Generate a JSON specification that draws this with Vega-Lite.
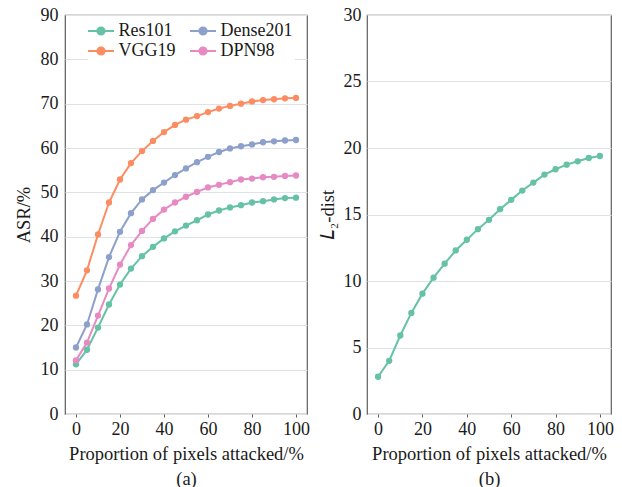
{
  "$schema": "https://vega.github.io/schema/vega-lite/v6.json",
  "background": "white",
  "padding": {"left": 13, "top": 5, "right": 5, "bottom": 0},
  "config": {
    "font": "Liberation Serif",
    "view": {"stroke": "#5f5f5f", "strokeWidth": 1.2},
    "axis": {
      "labelFont": "Liberation Serif", "labelFontSize": 18,
      "titleFont": "Liberation Serif", "titleFontSize": 18.5, "titleFontWeight": "normal",
      "labelColor": "#1a1a1a", "titleColor": "#1a1a1a",
      "domain": false, "tickColor": "#5f5f5f", "tickSize": 3, "labelPadding": 3,
      "gridColor": "#dde3e6", "gridWidth": 1
    },
    "axisX": {"grid": false, "titleLineHeight": 25, "titlePadding": 6},
    "axisY": {"ticks": false, "titleBaseline": "middle"},
    "concat": {"spacing": 6}
  },
  "datasets": {
    "asr": [
      {"model": "Res101", "x": 0, "asr": 11.2}, {"model": "Res101", "x": 5, "asr": 14.5}, {"model": "Res101", "x": 10, "asr": 19.5}, {"model": "Res101", "x": 15, "asr": 24.7}, {"model": "Res101", "x": 20, "asr": 29.2}, {"model": "Res101", "x": 25, "asr": 32.8}, {"model": "Res101", "x": 30, "asr": 35.6}, {"model": "Res101", "x": 35, "asr": 37.7}, {"model": "Res101", "x": 40, "asr": 39.6}, {"model": "Res101", "x": 45, "asr": 41.2}, {"model": "Res101", "x": 50, "asr": 42.5}, {"model": "Res101", "x": 55, "asr": 43.7}, {"model": "Res101", "x": 60, "asr": 45.0}, {"model": "Res101", "x": 65, "asr": 45.9}, {"model": "Res101", "x": 70, "asr": 46.6}, {"model": "Res101", "x": 75, "asr": 47.1}, {"model": "Res101", "x": 80, "asr": 47.7}, {"model": "Res101", "x": 85, "asr": 48.0}, {"model": "Res101", "x": 90, "asr": 48.4}, {"model": "Res101", "x": 95, "asr": 48.7}, {"model": "Res101", "x": 100, "asr": 48.8},
      {"model": "VGG19", "x": 0, "asr": 26.7}, {"model": "VGG19", "x": 5, "asr": 32.4}, {"model": "VGG19", "x": 10, "asr": 40.5}, {"model": "VGG19", "x": 15, "asr": 47.7}, {"model": "VGG19", "x": 20, "asr": 52.9}, {"model": "VGG19", "x": 25, "asr": 56.6}, {"model": "VGG19", "x": 30, "asr": 59.3}, {"model": "VGG19", "x": 35, "asr": 61.6}, {"model": "VGG19", "x": 40, "asr": 63.6}, {"model": "VGG19", "x": 45, "asr": 65.2}, {"model": "VGG19", "x": 50, "asr": 66.4}, {"model": "VGG19", "x": 55, "asr": 67.2}, {"model": "VGG19", "x": 60, "asr": 68.1}, {"model": "VGG19", "x": 65, "asr": 68.9}, {"model": "VGG19", "x": 70, "asr": 69.5}, {"model": "VGG19", "x": 75, "asr": 70.0}, {"model": "VGG19", "x": 80, "asr": 70.5}, {"model": "VGG19", "x": 85, "asr": 70.8}, {"model": "VGG19", "x": 90, "asr": 71.0}, {"model": "VGG19", "x": 95, "asr": 71.2}, {"model": "VGG19", "x": 100, "asr": 71.3},
      {"model": "Dense201", "x": 0, "asr": 15.0}, {"model": "Dense201", "x": 5, "asr": 20.2}, {"model": "Dense201", "x": 10, "asr": 28.1}, {"model": "Dense201", "x": 15, "asr": 35.4}, {"model": "Dense201", "x": 20, "asr": 41.1}, {"model": "Dense201", "x": 25, "asr": 45.3}, {"model": "Dense201", "x": 30, "asr": 48.4}, {"model": "Dense201", "x": 35, "asr": 50.5}, {"model": "Dense201", "x": 40, "asr": 52.2}, {"model": "Dense201", "x": 45, "asr": 53.9}, {"model": "Dense201", "x": 50, "asr": 55.4}, {"model": "Dense201", "x": 55, "asr": 56.8}, {"model": "Dense201", "x": 60, "asr": 58.0}, {"model": "Dense201", "x": 65, "asr": 59.1}, {"model": "Dense201", "x": 70, "asr": 59.9}, {"model": "Dense201", "x": 75, "asr": 60.4}, {"model": "Dense201", "x": 80, "asr": 60.8}, {"model": "Dense201", "x": 85, "asr": 61.3}, {"model": "Dense201", "x": 90, "asr": 61.5}, {"model": "Dense201", "x": 95, "asr": 61.7}, {"model": "Dense201", "x": 100, "asr": 61.8},
      {"model": "DPN98", "x": 0, "asr": 12.1}, {"model": "DPN98", "x": 5, "asr": 16.1}, {"model": "DPN98", "x": 10, "asr": 22.2}, {"model": "DPN98", "x": 15, "asr": 28.3}, {"model": "DPN98", "x": 20, "asr": 33.7}, {"model": "DPN98", "x": 25, "asr": 38.1}, {"model": "DPN98", "x": 30, "asr": 41.3}, {"model": "DPN98", "x": 35, "asr": 44.0}, {"model": "DPN98", "x": 40, "asr": 46.1}, {"model": "DPN98", "x": 45, "asr": 47.7}, {"model": "DPN98", "x": 50, "asr": 49.0}, {"model": "DPN98", "x": 55, "asr": 50.1}, {"model": "DPN98", "x": 60, "asr": 51.1}, {"model": "DPN98", "x": 65, "asr": 51.7}, {"model": "DPN98", "x": 70, "asr": 52.3}, {"model": "DPN98", "x": 75, "asr": 52.9}, {"model": "DPN98", "x": 80, "asr": 53.1}, {"model": "DPN98", "x": 85, "asr": 53.4}, {"model": "DPN98", "x": 90, "asr": 53.5}, {"model": "DPN98", "x": 95, "asr": 53.7}, {"model": "DPN98", "x": 100, "asr": 53.8}
    ],
    "dist": [
      {"x": 0, "dist": 2.8}, {"x": 5, "dist": 4.0}, {"x": 10, "dist": 5.9}, {"x": 15, "dist": 7.6}, {"x": 20, "dist": 9.05}, {"x": 25, "dist": 10.25}, {"x": 30, "dist": 11.3}, {"x": 35, "dist": 12.3}, {"x": 40, "dist": 13.1}, {"x": 45, "dist": 13.9}, {"x": 50, "dist": 14.6}, {"x": 55, "dist": 15.4}, {"x": 60, "dist": 16.1}, {"x": 65, "dist": 16.8}, {"x": 70, "dist": 17.4}, {"x": 75, "dist": 18.0}, {"x": 80, "dist": 18.4}, {"x": 85, "dist": 18.75}, {"x": 90, "dist": 19.0}, {"x": 95, "dist": 19.25}, {"x": 100, "dist": 19.4}
    ]
  },
  "hconcat": [
    {
      "width": 242, "height": 399,
      "data": {"name": "asr"},
      "mark": {"type": "line", "strokeWidth": 2, "point": {"filled": true, "size": 40}},
      "encoding": {
        "x": {"field": "x", "type": "quantitative", "scale": {"domain": [-5, 105], "nice": false, "zero": false},
              "axis": {"values": [0, 20, 40, 60, 80, 100], "title": ["Proportion of pixels attacked/%", "(a)"]}},
        "y": {"field": "asr", "type": "quantitative", "scale": {"domain": [0, 90], "nice": false},
              "axis": {"values": [0, 10, 20, 30, 40, 50, 60, 70, 80, 90], "title": "ASR/%", "labelPadding": 7, "titleX": -42}},
        "color": {"field": "model", "type": "nominal",
                  "scale": {"domain": ["Res101", "VGG19", "Dense201", "DPN98"], "range": ["#66c2a5", "#fc8d62", "#8da0cb", "#e78ac3"]},
                  "legend": {
                    "orient": "none", "legendX": 23, "legendY": 3, "columns": 2, "title": null,
                    "symbolType": "M-1.37,0H1.37M-0.37,0A0.37,0.37 0 1,0 0.37,0A0.37,0.37 0 1,0 -0.37,0Z",
                    "symbolSize": 361, "symbolStrokeWidth": 2.2,
                    "labelFont": "Liberation Serif", "labelFontSize": 18, "labelColor": "#1a1a1a",
                    "fillColor": "white", "padding": 2, "columnPadding": 9, "rowPadding": 0, "labelOffset": 6.5,
                    "encode": {"symbols": {"update": {"fill": {"scale": "color", "field": "value"}, "stroke": {"scale": "color", "field": "value"}}}}
                  }}
      }
    },
    {
      "width": 244, "height": 399,
      "data": {"name": "dist"},
      "mark": {"type": "line", "color": "#66c2a5", "strokeWidth": 2, "point": {"filled": true, "size": 40, "color": "#66c2a5"}},
      "encoding": {
        "x": {"field": "x", "type": "quantitative", "scale": {"domain": [-5, 105], "nice": false, "zero": false},
              "axis": {"values": [0, 20, 40, 60, 80, 100], "title": ["Proportion of pixels attacked/%", "(b)"]}},
        "y": {"field": "dist", "type": "quantitative", "scale": {"domain": [0, 30], "nice": false},
              "axis": {"values": [0, 5, 10, 15, 20, 25, 30], "title": "𝐿₂-dist", "labelPadding": 6, "titleX": -40}}
      }
    }
  ]
}
